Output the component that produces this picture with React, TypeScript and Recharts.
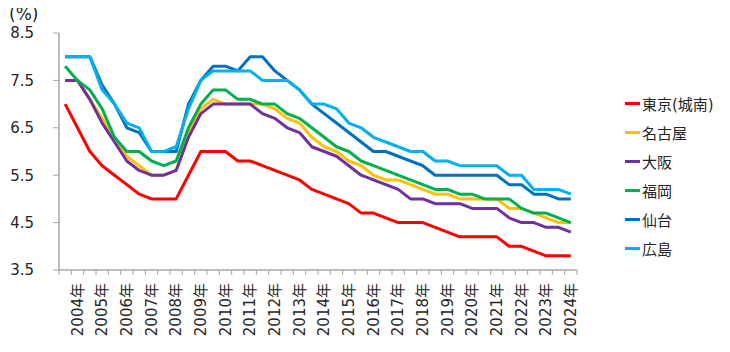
import React from "react";
import { LineChart, Line, XAxis, YAxis } from "recharts";

const yearLabels = [
  "2004年", "2005年", "2006年", "2007年", "2008年", "2009年", "2010年",
  "2011年", "2012年", "2013年", "2014年", "2015年", "2016年", "2017年",
  "2018年", "2019年", "2020年", "2021年", "2022年", "2023年", "2024年",
];

const yTicks = [3.5, 4.5, 5.5, 6.5, 7.5, 8.5];

const tokyo = [7.0, 6.5, 6.0, 5.7, 5.5, 5.3, 5.1, 5.0, 5.0, 5.0, 5.5, 6.0, 6.0, 6.0, 5.8, 5.8, 5.7, 5.6, 5.5, 5.4, 5.2, 5.1, 5.0, 4.9, 4.7, 4.7, 4.6, 4.5, 4.5, 4.5, 4.4, 4.3, 4.2, 4.2, 4.2, 4.2, 4.0, 4.0, 3.9, 3.8, 3.8, 3.8];
const nagoya = [7.5, 7.5, 7.1, 6.7, 6.3, 5.9, 5.7, 5.5, 5.5, 5.6, 6.4, 6.9, 7.1, 7.0, 7.0, 7.0, 7.0, 6.9, 6.7, 6.6, 6.3, 6.1, 6.0, 5.8, 5.7, 5.5, 5.4, 5.4, 5.3, 5.2, 5.1, 5.1, 5.0, 5.0, 5.0, 5.0, 4.8, 4.8, 4.7, 4.6, 4.5, 4.5];
const osaka = [7.5, 7.5, 7.1, 6.6, 6.2, 5.8, 5.6, 5.5, 5.5, 5.6, 6.3, 6.8, 7.0, 7.0, 7.0, 7.0, 6.8, 6.7, 6.5, 6.4, 6.1, 6.0, 5.9, 5.7, 5.5, 5.4, 5.3, 5.2, 5.0, 5.0, 4.9, 4.9, 4.9, 4.8, 4.8, 4.8, 4.6, 4.5, 4.5, 4.4, 4.4, 4.3];
const fukuoka = [7.8, 7.5, 7.3, 6.9, 6.3, 6.0, 6.0, 5.8, 5.7, 5.8, 6.5, 7.0, 7.3, 7.3, 7.1, 7.1, 7.0, 7.0, 6.8, 6.7, 6.5, 6.3, 6.1, 6.0, 5.8, 5.7, 5.6, 5.5, 5.4, 5.3, 5.2, 5.2, 5.1, 5.1, 5.0, 5.0, 5.0, 4.8, 4.7, 4.7, 4.6, 4.5];
const sendai = [8.0, 8.0, 8.0, 7.4, 7.0, 6.5, 6.4, 6.0, 6.0, 6.0, 7.0, 7.5, 7.8, 7.8, 7.7, 8.0, 8.0, 7.7, 7.5, 7.3, 7.0, 6.8, 6.6, 6.4, 6.2, 6.0, 6.0, 5.9, 5.8, 5.7, 5.5, 5.5, 5.5, 5.5, 5.5, 5.5, 5.3, 5.3, 5.1, 5.1, 5.0, 5.0];
const hiroshima = [8.0, 8.0, 8.0, 7.3, 7.0, 6.6, 6.5, 6.0, 6.0, 6.1, 6.9, 7.5, 7.7, 7.7, 7.7, 7.7, 7.5, 7.5, 7.5, 7.3, 7.0, 7.0, 6.9, 6.6, 6.5, 6.3, 6.2, 6.1, 6.0, 6.0, 5.8, 5.8, 5.7, 5.7, 5.7, 5.7, 5.5, 5.5, 5.2, 5.2, 5.2, 5.1];

const seriesNames = ["東京(城南)", "名古屋", "大阪", "福岡", "仙台", "広島"];
const seriesKeys = ["tokyo", "nagoya", "osaka", "fukuoka", "sendai", "hiroshima"];
const seriesValues = [tokyo, nagoya, osaka, fukuoka, sendai, hiroshima];
const seriesColors = ["#FF0000", "#FFC000", "#7030A0", "#00B050", "#0070C0", "#00B0F0"];

const N = tokyo.length;
const data = tokyo.map((_, i) => {
  const row: Record<string, number> = { i };
  seriesKeys.forEach((k, s) => {
    row[k] = seriesValues[s][i];
  });
  return row;
});

// category boundaries (tick marks between categories, as in the original)
const boundaryTicks = Array.from({ length: N + 1 }, (_, k) => k - 0.5);

const W = 714;
const H = 336;
const MARGIN = { top: 25, right: 145, left: 0, bottom: 4 };
const Y_AXIS_W = 51;
const PLOT_W = W - MARGIN.left - MARGIN.right - Y_AXIS_W;
const FONT = "'DejaVu Sans', 'Noto Sans CJK JP', sans-serif";
const AXIS_COLOR = "#A6A6A6";
const TEXT_COLOR = "#262626";

const YearTick = (props: any) => {
  const { x, y, payload } = props;
  const idx = payload.value + 0.5;
  if (idx % 2 !== 1) return <g />;
  const half = PLOT_W / N / 2;
  const label = yearLabels[(idx - 1) / 2];
  return (
    <text
      x={0}
      y={0}
      transform={`translate(${x + half},${y}) rotate(-90)`}
      textAnchor="end"
      dominantBaseline="central"
      fontSize={15}
      fontFamily={FONT}
      fill={TEXT_COLOR}
    >
      {label}
    </text>
  );
};

export default function App() {
  return (
    <div style={{ position: "relative", width: W, height: H, fontFamily: FONT }}>
      <div
        style={{
          position: "absolute",
          left: 1,
          top: -4,
          fontSize: 17,
          lineHeight: "20px",
          color: TEXT_COLOR,
          zIndex: 2,
        }}
      >
        (%)
      </div>
      <LineChart width={W} height={H} data={data} margin={MARGIN}>
        <XAxis
          xAxisId="cat"
          type="number"
          dataKey="i"
          domain={[-0.5, N - 0.5]}
          ticks={boundaryTicks}
          interval={0}
          height={70}
          tickSize={5}
          tickMargin={8}
          stroke={AXIS_COLOR}
          axisLine={{ stroke: AXIS_COLOR, strokeWidth: 1.5 }}
          tickLine={{ stroke: AXIS_COLOR, strokeWidth: 1 }}
          tick={<YearTick />}
        />
        <YAxis
          type="number"
          domain={[3.5, 8.5]}
          ticks={yTicks}
          interval={0}
          width={Y_AXIS_W}
          tickSize={6}
          tickMargin={19}
          axisLine={{ stroke: AXIS_COLOR, strokeWidth: 1.5 }}
          tickLine={{ stroke: AXIS_COLOR, strokeWidth: 1 }}
          tick={{ fontSize: 15, fontFamily: FONT, fill: TEXT_COLOR }}
          tickFormatter={(v: number) => v.toFixed(1)}
        />
        {seriesKeys.map((k, s) => (
          <Line
            key={k}
            xAxisId="cat"
            type="linear"
            dataKey={k}
            name={seriesNames[s]}
            stroke={seriesColors[s]}
            strokeWidth={3}
            strokeLinejoin="round"
            dot={false}
            activeDot={false}
            isAnimationActive={false}
          />
        ))}
      </LineChart>
      <div style={{ position: "absolute", left: 617, top: 81 }}>
        {seriesNames.map((name, s) => (
          <div
            key={name}
            style={{ display: "flex", alignItems: "center", height: 29 }}
          >
            <span
              style={{
                display: "inline-block",
                width: 15,
                height: 3,
                background: seriesColors[s],
                marginRight: 2,
              }}
            />
            <span style={{ fontSize: 15, color: TEXT_COLOR, whiteSpace: "nowrap" }}>{name}</span>
          </div>
        ))}
      </div>
    </div>
  );
}
